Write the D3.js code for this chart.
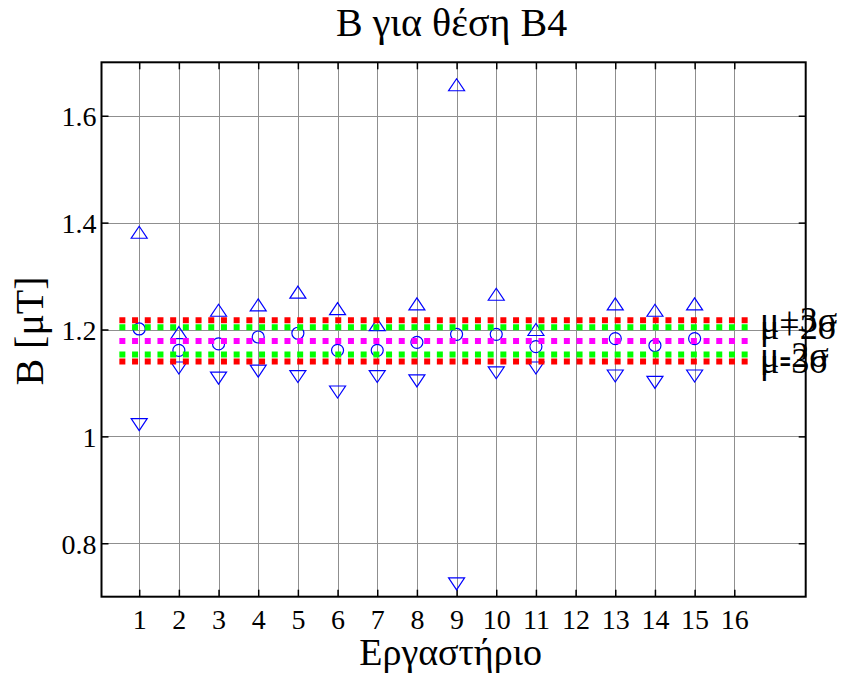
<!DOCTYPE html>
<html lang="el">
<head>
<meta charset="utf-8">
<title>B για θέση B4</title>
<script src="https://d3js.org/d3.v7.min.js"></script>
<style>
  body { margin: 0; background: #fff; }
  svg text { font-family: "Liberation Serif", "Times New Roman", serif; fill: #000; }
</style>
</head>
<body>
<script>
// data
const labs   = [1, 2, 3, 4, 5, 6, 7, 8, 9, 10, 11, 13, 14, 15];
const upper  = [1.382, 1.194, 1.236, 1.246, 1.270, 1.239, 1.209, 1.248, 1.658, 1.266, 1.200, 1.248, 1.236, 1.248];
const means  = [1.201, 1.161, 1.173, 1.186, 1.193, 1.161, 1.161, 1.176, 1.191, 1.191, 1.168, 1.183, 1.170, 1.183];
const lower  = [1.022, 1.128, 1.109, 1.122, 1.112, 1.083, 1.112, 1.104, 0.724, 1.119, 1.128, 1.113, 1.101, 1.113];

const mu = 1.1787, sigma = 0.0128;
const limitK      = [3, 2, 0, -2, -3];
const limitLabels = ["μ+3σ", "μ+2σ", "", "μ-2σ", "μ-3σ"];
const lineRange   = [0.5, 16.5];

const xTicks = d3.range(1, 17);
const yTicks = [0.8, 1, 1.2, 1.4, 1.6];
const yTickLabels = ["0.8", "1", "1.2", "1.4", "1.6"];

const title = "B για θέση B4", xTitle = "Εργαστήριο", yTitle = "B [μT]";

// layout
const W = 845, H = 682;
const box = {left: 101.5, right: 805.7, top: 62.3, bottom: 596.7};
const font = "'Liberation Serif', 'Times New Roman', serif";

const svg = d3.select("body").append("svg")
    .attr("width", W)
    .attr("height", H);

const x = d3.scaleLinear().domain([0.05, 17.8]).range([box.left, box.right]);
const y = d3.scaleLinear().domain([0.7, 1.7]).range([box.bottom, box.top]);

// grid
const grid = svg.append("g").attr("stroke", "#8f8f8f").attr("stroke-width", 1);
grid.selectAll(".gx").data(xTicks).enter().append("line")
    .attr("x1", d => Math.round(x(d)) + 0.5).attr("x2", d => Math.round(x(d)) + 0.5)
    .attr("y1", box.top).attr("y2", box.bottom);
grid.selectAll(".gy").data(yTicks).enter().append("line")
    .attr("y1", d => Math.round(y(d)) + 0.5).attr("y2", d => Math.round(y(d)) + 0.5)
    .attr("x1", box.left).attr("x2", box.right);

// axes (ticks inward on all sides)
const tl = 7;
svg.append("g").attr("transform", "translate(0," + box.bottom + ")")
    .call(d3.axisBottom(x).tickValues(xTicks).tickSize(-tl))
    .call(g => g.select(".domain").remove())
    .call(g => g.selectAll("text")
        .attr("y", 32).attr("dy", null)
        .style("font-family", font).style("font-size", "28px"));
svg.append("g").attr("transform", "translate(0," + box.top + ")")
    .call(d3.axisTop(x).tickValues(xTicks).tickSize(-tl).tickFormat(""))
    .call(g => g.select(".domain").remove());
svg.append("g").attr("transform", "translate(" + box.left + ",0)")
    .call(d3.axisLeft(y).tickValues(yTicks).tickSize(-tl)
        .tickFormat((d, i) => yTickLabels[i]))
    .call(g => g.select(".domain").remove())
    .call(g => g.selectAll("text")
        .attr("x", -5).attr("y", 10).attr("dy", null)
        .style("font-family", font).style("font-size", "28px"));
svg.append("g").attr("transform", "translate(" + box.right + ",0)")
    .call(d3.axisRight(y).tickValues(yTicks).tickSize(-tl).tickFormat(""))
    .call(g => g.select(".domain").remove());
svg.selectAll(".tick line").attr("stroke", "#000").attr("stroke-width", 1.5);

svg.append("rect")
    .attr("x", box.left).attr("y", box.top)
    .attr("width", box.right - box.left).attr("height", box.bottom - box.top)
    .attr("fill", "none").attr("stroke", "#000").attr("stroke-width", 2);

// markers
const pts = svg.append("g").attr("fill", "none").attr("stroke", "#0000ff").attr("stroke-width", 1.2);
const tri = (cx, cy, up) => {
  const hw = 8, hh = 6;
  return up
    ? `M${cx},${cy - hh}L${cx + hw},${cy + hh}L${cx - hw},${cy + hh}Z`
    : `M${cx - hw},${cy - hh}L${cx + hw},${cy - hh}L${cx},${cy + hh}Z`;
};
pts.selectAll(".up").data(labs).enter().append("path")
    .attr("d", (d, i) => tri(x(d), y(upper[i]), true));
pts.selectAll(".dn").data(labs).enter().append("path")
    .attr("d", (d, i) => tri(x(d), y(lower[i]), false));
pts.selectAll("circle").data(labs).enter().append("circle")
    .attr("cx", d => x(d)).attr("cy", (d, i) => y(means[i])).attr("r", 6);

// control limits
const limColor = {"3": "#ff0000", "2": "#00ff00", "0": "#ff00ff"};
svg.append("g").selectAll("line").data(limitK).enter().append("line")
    .attr("x1", x(lineRange[0])).attr("x2", x(lineRange[1]))
    .attr("y1", d => y(mu + d * sigma)).attr("y2", d => y(mu + d * sigma))
    .attr("stroke", d => limColor[Math.abs(d)])
    .attr("stroke-width", 6)
    .attr("stroke-dasharray", "6,6.7");

svg.append("g").selectAll("text").data(limitK).enter().append("text")
    .attr("x", x(16.65))
    .attr("y", d => y(mu + d * sigma) + 12)
    .style("font-family", font)
    .style("font-size", "36px")
    .text((d, i) => limitLabels[i]);

// titles
svg.append("text")
    .attr("x", (box.left + box.right) / 2 - 2).attr("y", 36)
    .attr("text-anchor", "middle")
    .style("font-family", font).style("font-size", "40px")
    .text(title);

svg.append("text")
    .attr("x", (box.left + box.right) / 2 - 3).attr("y", 665)
    .attr("text-anchor", "middle")
    .style("font-family", font).style("font-size", "38px")
    .text(xTitle);

svg.append("text")
    .attr("transform", "translate(43," + 331 + ")rotate(-90)")
    .attr("text-anchor", "middle")
    .style("font-family", font).style("font-size", "40px")
    .text(yTitle);
</script>
</body>
</html>
